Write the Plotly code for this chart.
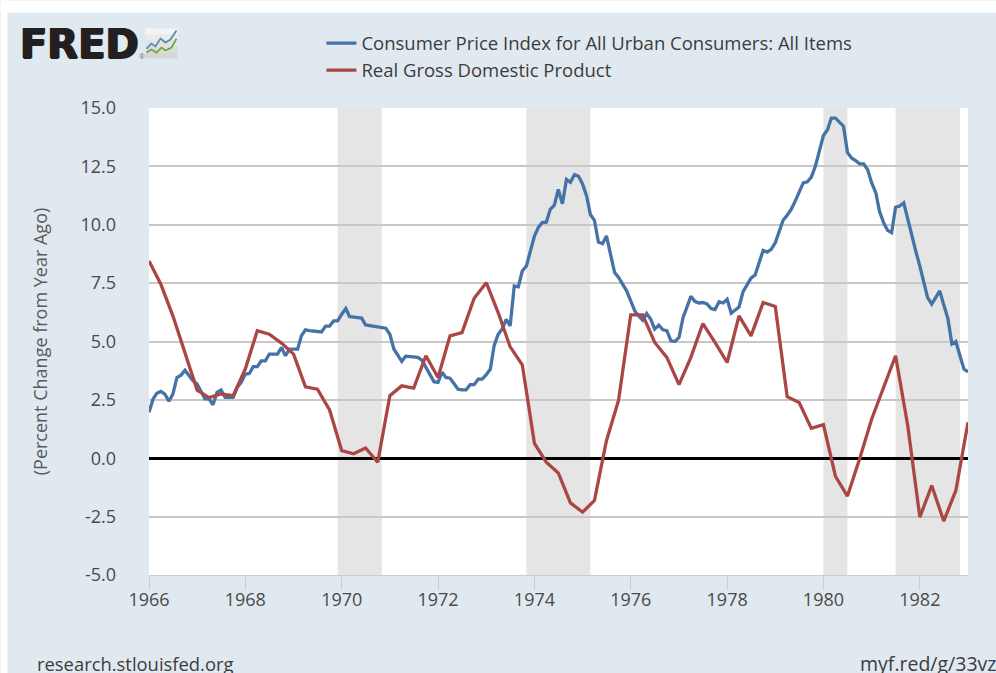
import plotly.graph_objects as go
import pandas as pd

TITLE_CPI = "Consumer Price Index for All Urban Consumers: All Items"
TITLE_GDP = "Real Gross Domestic Product"
Y_TITLE = "(Percent Change from Year Ago)"
SOURCE = "research.stlouisfed.org"
SHORT_URL = "myf.red/g/33vz"

cpi_dates = pd.date_range("1966-01-01", "1983-01-01", freq="MS")
gdp_dates = pd.date_range("1966-01-01", "1983-01-01", freq="QS")

cpi_values = [
    1.97, 2.54, 2.78, 2.86, 2.75, 2.44, 2.75, 3.46, 3.56, 3.77, 3.53, 3.32,
    3.18, 2.82, 2.54, 2.54, 2.29, 2.82, 2.92, 2.61, 2.61, 2.61, 3.03, 3.25,
    3.60, 3.63, 3.92, 3.92, 4.17, 4.17, 4.46, 4.46, 4.46, 4.74, 4.39, 4.67,
    4.67, 4.67, 5.24, 5.50, 5.47, 5.44, 5.41, 5.41, 5.66, 5.66, 5.88, 5.88,
    6.17, 6.41, 6.07, 6.04, 6.03, 6.00, 5.71, 5.68, 5.66, 5.63, 5.60, 5.57,
    5.31, 4.67, 4.43, 4.15, 4.37, 4.36, 4.34, 4.32, 4.20, 3.89, 3.60, 3.28,
    3.25, 3.68, 3.46, 3.43, 3.20, 2.96, 2.93, 2.93, 3.15, 3.15, 3.39, 3.39,
    3.58, 3.82, 4.81, 5.31, 5.53, 5.95, 5.67, 7.38, 7.34, 8.02, 8.23, 8.87,
    9.52, 9.90, 10.09, 10.11, 10.66, 10.84, 11.51, 10.90, 11.94, 11.82, 12.15, 12.08,
    11.75, 11.22, 10.44, 10.19, 9.26, 9.19, 9.52, 8.73, 7.95, 7.74, 7.45, 7.17,
    6.74, 6.31, 6.10, 5.91, 6.20, 5.95, 5.53, 5.70, 5.50, 5.46, 5.03, 5.00,
    5.17, 6.03, 6.45, 6.94, 6.72, 6.65, 6.67, 6.61, 6.41, 6.37, 6.70, 6.65,
    6.81, 6.21, 6.34, 6.48, 7.12, 7.41, 7.71, 7.85, 8.42, 8.90, 8.83, 8.95,
    9.23, 9.69, 10.19, 10.41, 10.65, 11.01, 11.41, 11.79, 11.84, 12.04, 12.51, 13.22,
    13.82, 14.07, 14.57, 14.57, 14.40, 14.22, 13.10, 12.86, 12.75, 12.61, 12.61, 12.36,
    11.79, 11.37, 10.58, 10.09, 9.76, 9.66, 10.75, 10.80, 10.94, 10.23, 9.52, 8.87,
    8.23, 7.59, 6.88, 6.60, 6.88, 7.17, 6.57, 6.00, 4.89, 5.00, 4.39, 3.82,
    3.70,
]
gdp_values = [
    8.45, 7.45, 6.10, 4.46, 2.92, 2.60, 2.75, 2.68, 3.82, 5.46, 5.31, 4.93,
    4.46, 3.06, 2.96, 2.07, 0.33, 0.19, 0.44, -0.17, 2.68, 3.10, 3.00, 4.39,
    3.46, 5.24, 5.38, 6.85, 7.52, 6.24, 4.77, 4.00, 0.64, -0.17, -0.63, -1.91,
    -2.31, -1.81, 0.75, 2.49, 6.14, 6.14, 4.96, 4.32, 3.15, 4.32, 5.77, 4.96,
    4.10, 6.10, 5.24, 6.67, 6.50, 2.64, 2.39, 1.28, 1.44, -0.77, -1.62, -0.03,
    1.68, 3.03, 4.39, 1.40, -2.52, -1.17, -2.69, -1.38, 1.54,
]
recession_starts = ["1969-12-01", "1973-11-01", "1980-01-01", "1981-07-01"]
recession_ends = ["1970-11-01", "1975-03-01", "1980-07-01", "1982-11-01"]
y_ticks = [-5, -2.5, 0, 2.5, 5, 7.5, 10, 12.5, 15]
x_ticks = [f"{y}-01-01" for y in range(1966, 1984, 2)]
x_labels = [str(y) for y in range(1966, 1984, 2)]

W, H = 996, 673
L, R, T, B = 148.5, 28, 107.5, 98
PW, PH = W - L - R, H - T - B
FONT = "Open Sans"
PANEL = "#e1e9f0"
TEXT = "#3c3c3c"


def px(x):
    return (x - L) / PW


def py(y):
    return 1 - (y - T) / PH


def pline(points):
    return "M" + " L".join(f"{px(a):.5f},{py(b):.5f}" for a, b in points)


fig = go.Figure()
fig.add_trace(go.Scatter(x=cpi_dates, y=cpi_values, mode="lines", name=TITLE_CPI,
                         line=dict(color="#4572a7", width=3.3)))
fig.add_trace(go.Scatter(x=gdp_dates, y=gdp_values, mode="lines", name=TITLE_GDP,
                         line=dict(color="#aa4643", width=3.3)))

shapes = []
for s, e in zip(recession_starts, recession_ends):
    shapes.append(dict(type="rect", xref="x", yref="paper", x0=s, x1=e, y0=0, y1=1,
                       fillcolor="#e5e5e5", line_width=0, layer="below"))
# page margin outside the panel
for box in [(0, 0, 7, H), (0, 0, W, 12)]:
    shapes.append(dict(type="rect", xref="paper", yref="paper",
                       x0=px(box[0]), x1=px(box[2]), y0=py(box[3]), y1=py(box[1]),
                       fillcolor="#ffffff", line_width=0, layer="above"))
# FRED logo icon: stacked bands stand in for its soft top-to-bottom gradient
icon_bands = [(28, 34, "#f3f4f3"), (34, 40, "#ebecea"), (40, 46, "#e3e4e2"), (46, 52, "#dcdddb"), (52, 58, "#d6d7d5")]
for top, bottom, colour in icon_bands:
    shapes.append(dict(type="rect", xref="paper", yref="paper", x0=px(145), x1=px(177),
                       y0=py(bottom), y1=py(top), fillcolor=colour, line_width=0, layer="above"))
shapes.append(dict(type="path", xref="paper", yref="paper",
                   path=pline([(146, 48), (151, 43), (155, 46), (160, 38), (165, 42), (170, 39), (176, 30)]),
                   line=dict(color="#5b8db5", width=1.8), layer="above"))
shapes.append(dict(type="path", xref="paper", yref="paper",
                   path=pline([(146, 52), (151, 49), (156, 52), (161, 47), (165, 50), (171, 47), (176, 38)]),
                   line=dict(color="#6fa544", width=1.8), layer="above"))

annotations = [
    dict(text="<b>FRED</b>", x=px(17.5), y=py(43), xref="paper", yref="paper", xanchor="left", yanchor="middle",
         showarrow=False, font=dict(family="DejaVu Sans", size=40, color="#231f20", weight=900,
                                    shadow="1px 0 0 #231f20, -1px 0 0 #231f20, 0 1px 0 #231f20")),
    dict(text="®", x=px(141), y=py(56), xref="paper", yref="paper", xanchor="center", yanchor="middle",
         showarrow=False, font=dict(family=FONT, size=7, color="#777777")),
    dict(text=SOURCE, x=px(34.5), y=py(664), xref="paper", yref="paper", xanchor="left", yanchor="middle",
         showarrow=False, font=dict(family=FONT, size=18.4, color=TEXT)),
    dict(text=SHORT_URL, x=px(857.5), y=py(664), xref="paper", yref="paper", xanchor="left", yanchor="middle",
         showarrow=False, font=dict(family=FONT, size=19.5, color=TEXT)),
]

fig.update_layout(
    width=W, height=H,
    margin=dict(l=L, r=R, t=T, b=B, pad=0),
    paper_bgcolor=PANEL, plot_bgcolor="#ffffff",
    font=dict(family=FONT, color=TEXT),
    shapes=shapes, annotations=annotations,
    showlegend=True,
    legend=dict(x=px(321), y=py(24), xanchor="left", yanchor="top", bgcolor="rgba(0,0,0,0)",
                font=dict(family=FONT, size=18.5, color=TEXT), itemwidth=30, tracegroupgap=0),
    xaxis=dict(type="date", range=["1966-01-01", "1983-01-01"], tickmode="array", tickvals=x_ticks,
               ticktext=x_labels, ticks="outside", ticklen=14, tickwidth=1, tickcolor="#c0d0e0",
               showline=True, linecolor="#c0d0e0", linewidth=1, showgrid=False, zeroline=False,
               ticklabelstandoff=-6,
               tickfont=dict(family=FONT, size=18, color="#4a4a4a")),
    yaxis=dict(range=[-5, 15], tickmode="array", tickvals=y_ticks, ticktext=[f"{v:.1f}" for v in y_ticks],
               showgrid=True, gridcolor="#c8c8c8", gridwidth=1.5, zeroline=True, zerolinecolor="#000000",
               zerolinewidth=3, ticks="", ticklabelstandoff=32, showline=False,
               tickfont=dict(family=FONT, size=18, color="#4a4a4a"),
               title=dict(text=Y_TITLE, font=dict(family=FONT, size=18, color="#5a5a5a"), standoff=28)),
)

fig.write_html("out.html", config=dict(displayModeBar=False),
               post_script="document.body.style.margin='0';document.body.style.overflow='hidden';")
